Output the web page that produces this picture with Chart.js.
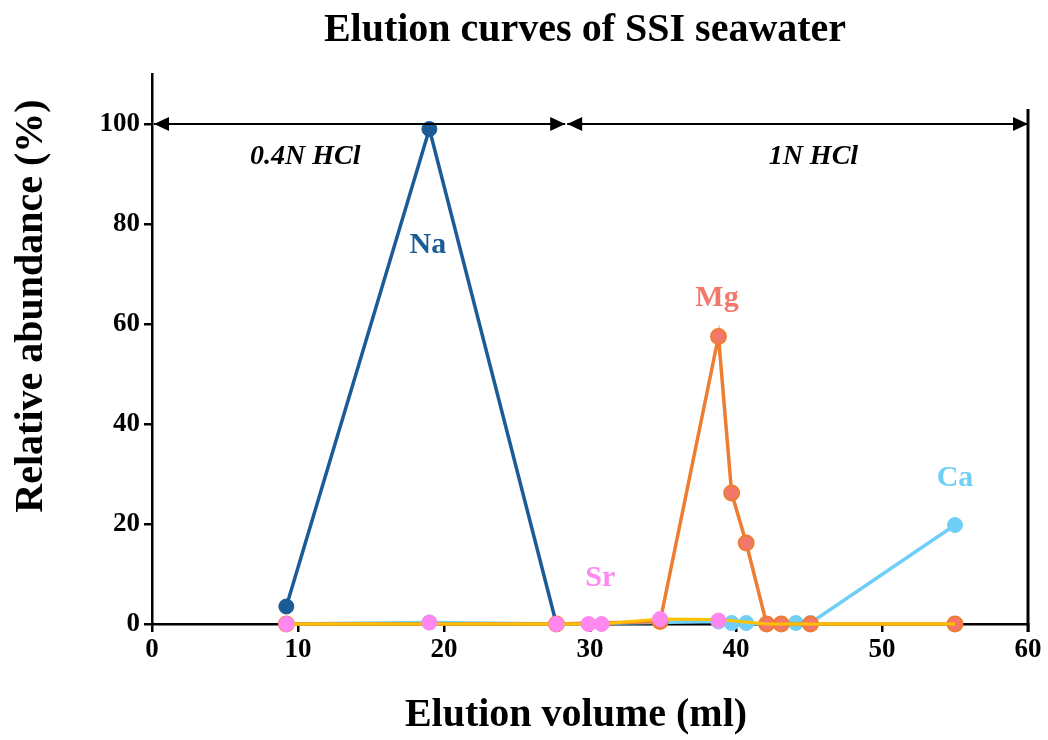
<!DOCTYPE html>
<html>
<head>
<meta charset="utf-8">
<script src="https://cdn.jsdelivr.net/npm/chart.js@4.4.0/dist/chart.umd.min.js"></script>
<style>
  html, body { margin: 0; padding: 0; background: #fff; }
  #wrap { width: 1048px; height: 740px; }
</style>
</head>
<body>
<div id="wrap"><canvas id="elution"></canvas></div>
<script>
// elution volume (ml) and relative abundance (%) per element
const naVol = [9.2, 19, 27.7];
const naPct = [3.5, 99, 0];

const mgVol = [9.2, 27.7, 34.8, 38.8, 39.7, 40.7, 42.1, 43.1, 45.1, 55];
const mgPct = [0, 0, 0.5, 57.5, 26.2, 16.2, 0, 0, 0, 0];

const caVol = [9.2, 19, 27.7, 38.8, 39.7, 40.7, 42.1, 43.1, 44.1, 45.1, 55];
const caPct = [0, 0.3, 0, 0.5, 0.2, 0.2, 0, 0, 0.2, 0.2, 19.8];

const srVol = [9.2, 19, 27.7, 29.9, 30.8, 34.8, 38.8];
const srPct = [0, 0.3, 0, 0, 0, 1.0, 0.7];

// unlabeled trace along the baseline
const otherVol = [9.2, 19, 27.7, 29.9, 30.8, 34.8, 38.8, 42.1, 43.1, 45.1, 55];
const otherPct = [0, 0, 0, 0, 0, 1.0, 0.9, 0, 0, 0, 0];

const xTicks = [0, 10, 20, 30, 40, 50, 60];
const yTicks = [0, 20, 40, 60, 80, 100];

// acid steps: [from, to, label, label position]
const acidSteps = [[0, 28.3, '0.4N HCl', 10.5], [28.3, 60, '1N HCl', 45.3]];

const SERIF = '"Liberation Serif", "Times New Roman", serif';

function pts(xs, ys) {
    return xs.map((x, i) => ({ x: x, y: ys[i] }));
}

const labels = [
    { text: 'Na', x: 18.9, y: 75.8, color: '#1b5b96' },
    { text: 'Mg', x: 38.7, y: 65.2, color: '#f4776b' },
    { text: 'Sr', x: 30.7, y: 9.2, color: '#ff88f0' },
    { text: 'Ca', x: 55, y: 29.2, color: '#6fcff6' }
];

function arrowHead(ctx, x, y, dir) {
    ctx.beginPath();
    ctx.moveTo(x, y);
    ctx.lineTo(x - dir * 15, y - 7);
    ctx.lineTo(x - dir * 15, y + 7);
    ctx.closePath();
    ctx.fill();
}

const annotations = {
    id: 'annotations',
    afterDatasetsDraw(chart) {
        const ctx = chart.ctx;
        const xs = chart.scales.x, ys = chart.scales.y;
        ctx.save();
        ctx.strokeStyle = '#000';
        ctx.fillStyle = '#000';
        ctx.lineWidth = 2;
        const yArrow = ys.getPixelForValue(100);
        acidSteps.forEach(([a, b]) => {
            const x1 = xs.getPixelForValue(a) + 2, x2 = xs.getPixelForValue(b);
            ctx.beginPath();
            ctx.moveTo(x1, yArrow);
            ctx.lineTo(x2, yArrow);
            ctx.stroke();
            arrowHead(ctx, x1, yArrow, -1);
            arrowHead(ctx, x2, yArrow, 1);
        });
        // end of elution marker
        const xEnd = xs.getPixelForValue(60);
        ctx.lineWidth = 3;
        ctx.beginPath();
        ctx.moveTo(xEnd, ys.getPixelForValue(103));
        ctx.lineTo(xEnd, ys.getPixelForValue(0) + 8);
        ctx.stroke();

        ctx.textAlign = 'center';
        ctx.textBaseline = 'middle';
        ctx.font = 'italic bold 28px ' + SERIF;
        acidSteps.forEach(s => {
            ctx.fillText(s[2], xs.getPixelForValue(s[3]), ys.getPixelForValue(93.4));
        });

        ctx.font = 'bold 30px ' + SERIF;
        labels.forEach(l => {
            ctx.fillStyle = l.color;
            ctx.fillText(l.text, xs.getPixelForValue(l.x), ys.getPixelForValue(l.y));
        });

        // chart and axis titles
        ctx.fillStyle = '#000';
        ctx.font = 'bold 40px ' + SERIF;
        ctx.fillText('Elution curves of SSI seawater', 585, 31);
        ctx.fillText('Elution volume (ml)', 576, 716);
        ctx.translate(32, 306);
        ctx.rotate(-Math.PI / 2);
        ctx.fillText('Relative abundance (%)', 0, 0);
        ctx.restore();
    }
};

const common = { clip: false, showLine: true, pointRadius: 7.5, pointBorderWidth: 1 };

new Chart(document.getElementById('elution'), {
    type: 'scatter',
    plugins: [annotations],
    data: {
        datasets: [
            Object.assign({}, common, {
                label: 'Sr', data: pts(srVol, srPct), showLine: false,
                pointBackgroundColor: '#ff88f0', pointBorderColor: '#ff88f0'
            }),
            Object.assign({}, common, {
                label: '', data: pts(otherVol, otherPct),
                borderColor: '#ffc000', borderWidth: 3, pointRadius: 0
            }),
            Object.assign({}, common, {
                label: 'Mg', data: pts(mgVol, mgPct),
                borderColor: '#ed7d31', borderWidth: 3.5,
                pointBackgroundColor: '#f4776b', pointBorderColor: '#ed7d31', pointBorderWidth: 2
            }),
            Object.assign({}, common, {
                label: 'Ca', data: pts(caVol, caPct),
                borderColor: '#6fcff6', borderWidth: 3.5,
                pointBackgroundColor: '#6fcff6', pointBorderColor: '#6fcff6'
            }),
            Object.assign({}, common, {
                label: 'Na', data: pts(naVol, naPct),
                borderColor: '#1b5b96', borderWidth: 3.5,
                pointBackgroundColor: '#1b5b96', pointBorderColor: '#1b5b96'
            })
        ]
    },
    options: {
        responsive: true,
        maintainAspectRatio: false,
        animation: false,
        layout: { padding: { left: 0, right: 20, top: 74, bottom: 0 } },
        plugins: {
            legend: { display: false },
            tooltip: { enabled: false },
            title: { display: false }
        },
        scales: {
            x: {
                type: 'linear', min: 0, max: 60,
                afterBuildTicks: s => { s.ticks = xTicks.map(v => ({ value: v })); },
                afterFit: s => { s.height = 116; },
                border: { color: '#000', width: 2.5 },
                grid: { drawOnChartArea: false, drawTicks: true, tickLength: 8, color: '#000', lineWidth: 2.5 },
                ticks: { color: '#000', padding: 2, font: { family: SERIF, size: 27, weight: 'bold' } }
            },
            y: {
                type: 'linear', min: 0, max: 110,
                afterBuildTicks: s => { s.ticks = yTicks.map(v => ({ value: v })); },
                afterFit: s => { s.width = 152; },
                border: { color: '#000', width: 2.5 },
                grid: { drawOnChartArea: false, drawTicks: true, tickLength: 8, color: '#000', lineWidth: 2.5 },
                ticks: { color: '#000', padding: 4, font: { family: SERIF, size: 27, weight: 'bold' } }
            }
        }
    }
});
</script>
</body>
</html>
